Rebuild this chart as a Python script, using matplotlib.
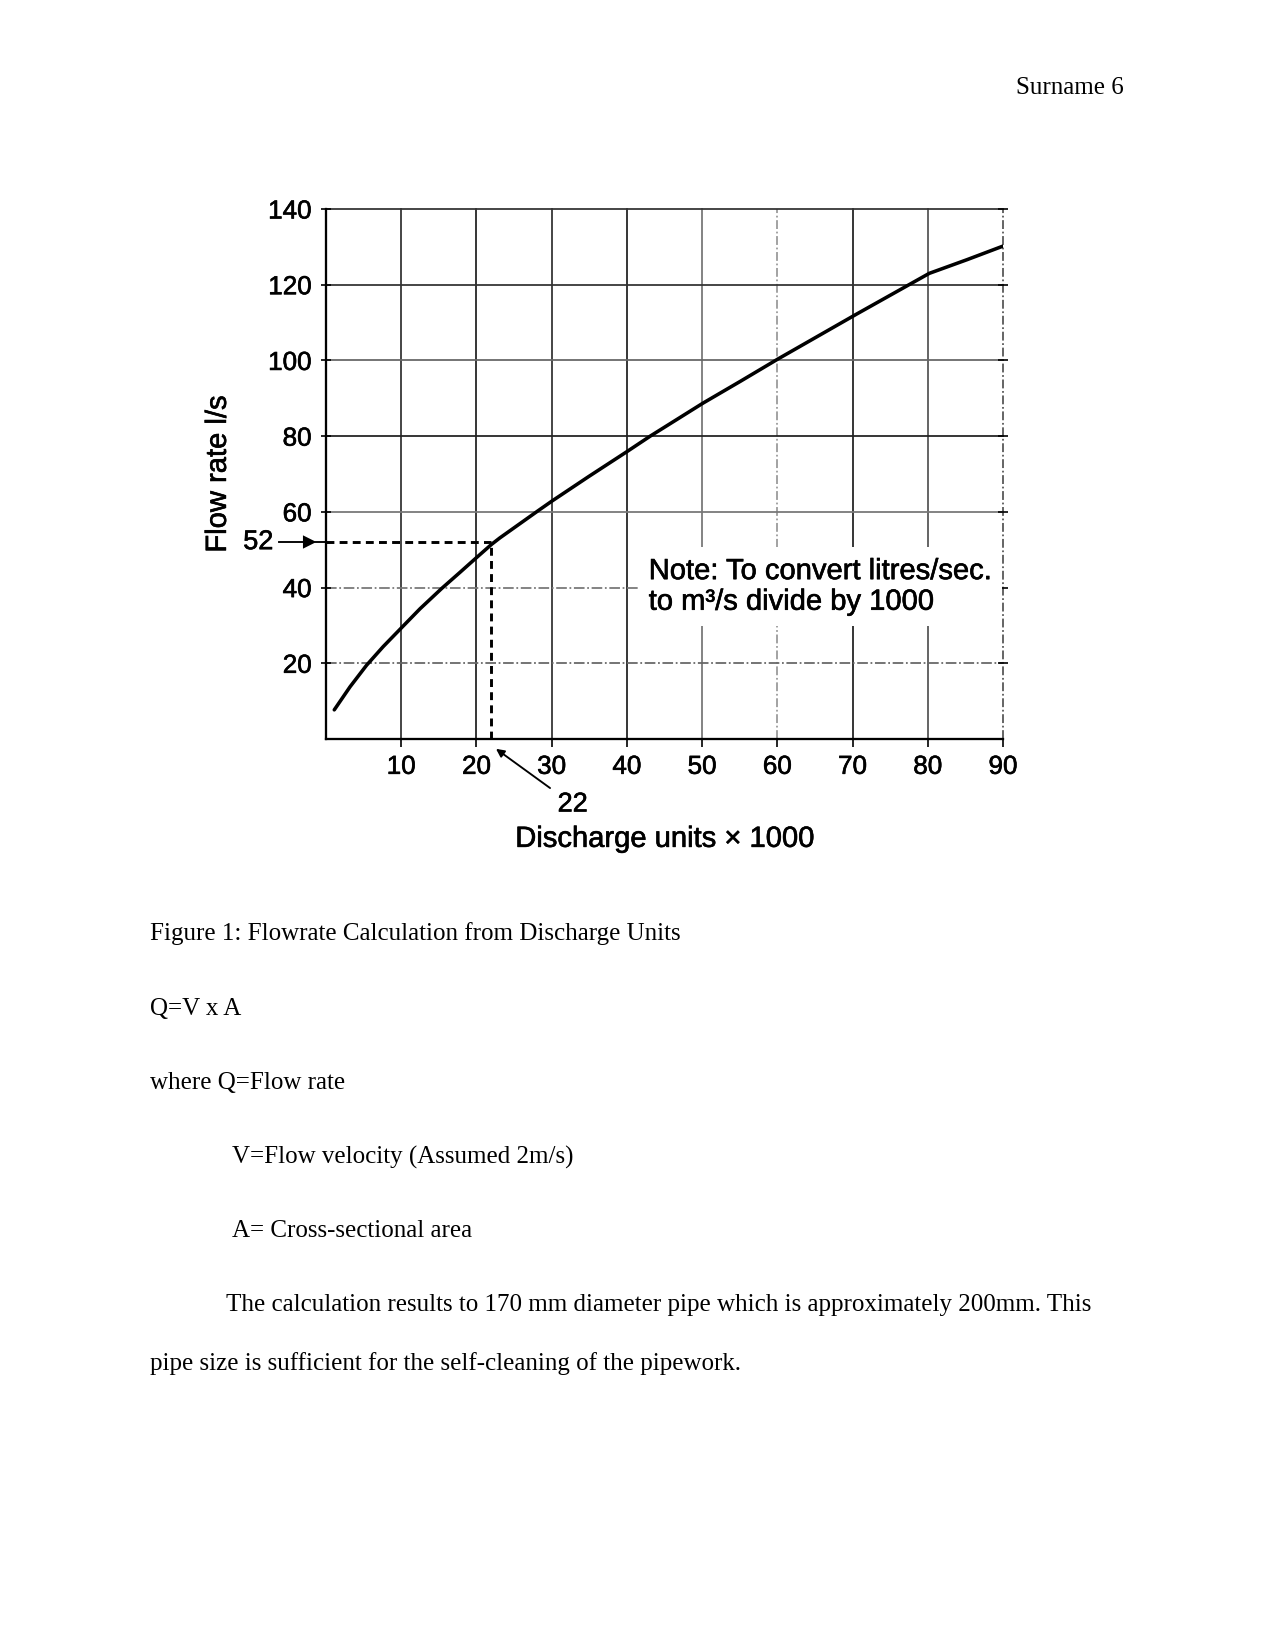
import matplotlib
matplotlib.use('Agg')
import matplotlib.pyplot as plt
import matplotlib.patheffects as pe

# curve (discharge units x1000 -> flow rate l/s)
du = [1.1, 3.2, 5.4, 7.6, 9.8, 12.5, 15.4, 17.8, 20, 22, 23.1, 28.2, 30, 34.9,
      40, 43.1, 50.1, 55.1, 60.1, 65.3, 70.5, 80.2, 85.2, 90]
flow = [7.7, 13.8, 19.5, 24.4, 28.9, 34.4, 39.8, 44.0, 47.9, 51.4, 53.1, 60.3, 62.8, 69.3,
        75.9, 80, 88.7, 94.5, 100.4, 106.3, 112.2, 123, 126.6, 130.2]

x_ticks = [10, 20, 30, 40, 50, 60, 70, 80, 90]
y_ticks = [20, 40, 60, 80, 100, 120, 140]

read_du = 22
read_flow = 52

W, H = 1275, 1651
fig = plt.figure(figsize=(W / 150, H / 150), dpi=150)
fig.patch.set_facecolor('white')

sans = 'Liberation Sans'
serif = 'Liberation Serif'
heavy = [pe.withStroke(linewidth=0.3, foreground='black')]

ax = fig.add_axes([326 / W, 1 - 739 / H, 677 / W, 530 / H])
ax.set_xlim(0, 90)
ax.set_ylim(0, 140)

# grid (scan has a mix of dark and faded lines)
vcol = {10: '#333333', 20: '#222222', 30: '#333333', 40: '#222222', 50: '#777777',
        60: '#999999', 70: '#222222', 80: '#555555', 90: '#555555'}
hcol = {20: '#666666', 40: '#777777', 60: '#777777', 80: '#222222', 100: '#666666',
        120: '#333333', 140: '#333333'}
for xv in x_ticks:
    ls = (0, (5, 1.5, 1, 1.5)) if xv in (60, 90) else '-'
    ax.axvline(xv, color=vcol[xv], lw=0.85, ls=ls, zorder=1, clip_on=False)
for yv in y_ticks:
    ls = (0, (6, 1.5, 1, 1.5)) if yv in (20, 40) else '-'
    ax.axhline(yv, color=hcol[yv], lw=0.85, ls=ls, zorder=1, clip_on=False)

# curve
ax.plot(du, flow, color='black', lw=1.7, solid_capstyle='round',
        solid_joinstyle='round', zorder=4)

# dashed read-off lines
ax.plot([0, read_du], [read_flow, read_flow], color='black', lw=1.4,
        dashes=(2.7, 1.8), zorder=3)
ax.plot([read_du, read_du], [0, read_flow], color='black', lw=1.4,
        dashes=(2.7, 1.8), zorder=3)

# 52 label with arrow to the axis
ax.plot([-6.2, 0], [read_flow, read_flow], color='black', lw=0.9, clip_on=False)
ax.plot([-2.2], [read_flow], marker='>', color='black', ms=5, clip_on=False)
ax.text(-7.0, read_flow, str(read_flow), ha='right', va='center',
        fontsize=13, family=sans, path_effects=heavy)

# 22 label with arrow
ax.annotate(str(read_du), xy=(read_du + 0.6, -2.6), xytext=(32.8, -17.3),
            ha='center', va='center', fontsize=13, family=sans,
            annotation_clip=False, path_effects=heavy,
            arrowprops=dict(arrowstyle='-|>', color='black', lw=0.9,
                            mutation_scale=8, shrinkA=2, shrinkB=0))

# note
ax.text(42.9, 40.3, 'Note: To convert litres/sec.\nto m³/s divide by 1000',
        ha='left', va='center', fontsize=14, family=sans, linespacing=1.12,
        zorder=5, path_effects=heavy,
        bbox=dict(boxstyle='square,pad=0.35', facecolor='white', edgecolor='none'))

# spines / ticks
for s in ['top', 'right']:
    ax.spines[s].set_visible(False)
for s in ['left', 'bottom']:
    ax.spines[s].set_linewidth(1.1)
    ax.spines[s].set_zorder(6)

ax.set_xticks(x_ticks)
ax.set_yticks(y_ticks)
ax.tick_params(axis='x', direction='out', length=3.8, width=0.8, pad=3.8,
               labelsize=12.5)
ax.tick_params(axis='y', direction='inout', length=4.8, width=0.8, pad=4.5,
               labelsize=12.5, right=True)
for lab in ax.get_xticklabels() + ax.get_yticklabels():
    lab.set_family(sans)
    lab.set_path_effects(heavy)

ax.set_xlabel('Discharge units × 1000', fontsize=14, family=sans, va='top',
              path_effects=heavy)
ax.xaxis.set_label_coords(0.5, -0.162)
ax.set_ylabel('Flow rate l/s', fontsize=14, family=sans, path_effects=heavy)
ax.yaxis.set_label_coords(-0.139, 0.5)

# page text
def page_text(x, y, s, **kw):
    fig.text(x / W, 1 - y / H, s, fontsize=12, family=serif, va='center', **kw)

page_text(1124, 88, 'Surname 6', ha='right')
page_text(150.5, 934, 'Figure 1: Flowrate Calculation from Discharge Units')
page_text(150.5, 1009, 'Q=V x A')
page_text(150.5, 1083, 'where Q=Flow rate')
page_text(231.5, 1157, 'V=Flow velocity (Assumed 2m/s)')
page_text(231.5, 1231, 'A= Cross-sectional area')
page_text(226.5, 1305, 'The calculation results to 170 mm diameter pipe which is approximately 200mm. This')
page_text(150.5, 1364, 'pipe size is sufficient for the self-cleaning of the pipework.')

fig.savefig('out.png', dpi=150)
